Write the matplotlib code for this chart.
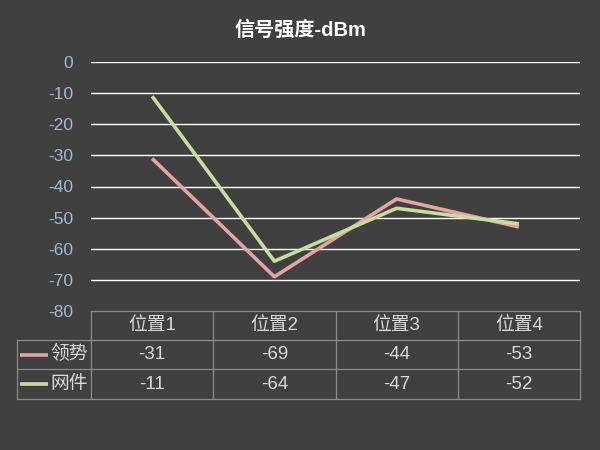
import numpy as np
import matplotlib.pyplot as plt

plt.rcParams['font.family'] = ['Liberation Sans', 'Noto Sans CJK SC', 'DejaVu Sans']

# data
categories = ['位置1', '位置2', '位置3', '位置4']
series_names = ['领势', '网件']
lingshi = [-31, -69, -44, -53]
wangjian = [-11, -64, -47, -52]
yticks = [0, -10, -20, -30, -40, -50, -60, -70, -80]

bg = '#404040'
colors = ['#E6A3A3', '#C9DC9E']
W, H = 600, 450

fig = plt.figure(figsize=(6, 4.5), dpi=100, facecolor=bg)

# plot area (pixel box)
x0, x1, ytop, ybot = 91, 580, 62, 311
ax = fig.add_axes([x0 / W, 1 - ybot / H, (x1 - x0) / W, (ybot - ytop) / H])
ax.set_facecolor(bg)
ax.set_xlim(-0.5, len(categories) - 0.5)
ax.set_ylim(-80, 0)
for t in yticks:
    if t > -80:
        ax.axhline(t, color='white', lw=1, zorder=1)
for vals, c in zip([lingshi, wangjian], colors):
    ax.plot(range(len(categories)), vals, color=c, lw=2.6, solid_capstyle='butt', zorder=3)
ax.set_yticks(yticks)
ax.set_yticklabels([str(t) for t in yticks])
ax.tick_params(axis='y', length=0, pad=13, labelsize=12.5, labelcolor='#A9B9CE')
ax.set_xticks([])
for s in ax.spines.values():
    s.set_visible(False)

fig.text(0.5, 1 - 30 / H, '信号强度-dBm', ha='center', va='center',
         color='white', fontsize=14.5, fontweight='bold')

# data table below
tl, tr, r0, r1, r2, r3 = 17, 580, 311, 340, 369, 399
tax = fig.add_axes([tl / W, 1 - r3 / H, (tr - tl) / W, (r3 - r0) / H])
tax.set_xlim(tl, tr)
tax.set_ylim(r3, r0)
tax.axis('off')
lc = '#8C8C8C'
tax.plot([x0, tr], [r0, r0], color=lc, lw=0.9, clip_on=False)
for yy in [r1, r2, r3]:
    tax.plot([tl, tr], [yy, yy], color=lc, lw=0.9, clip_on=False)
tax.plot([tl, tl], [r1, r3], color=lc, lw=0.9, clip_on=False)
cw = (x1 - x0) / len(categories)
for i in range(len(categories) + 1):
    xx = x0 + i * cw
    tax.plot([xx, xx], [r0, r3], color=lc, lw=0.9, clip_on=False)

tcol = '#D9D9D9'
fs = 13.5
for i, cat in enumerate(categories):
    cx = x0 + (i + 0.5) * cw
    tax.text(cx, (r0 + r1) / 2, cat, ha='center', va='center', color=tcol, fontsize=fs)
    tax.text(cx, (r1 + r2) / 2, str(lingshi[i]), ha='center', va='center', color=tcol, fontsize=fs)
    tax.text(cx, (r2 + r3) / 2, str(wangjian[i]), ha='center', va='center', color=tcol, fontsize=fs)
for yy0, yy1, name, c in [(r1, r2, series_names[0], colors[0]), (r2, r3, series_names[1], colors[1])]:
    cy = (yy0 + yy1) / 2
    tax.plot([20, 48], [cy, cy], color=c, lw=2.6, solid_capstyle='butt')
    tax.text(50, cy, name, ha='left', va='center', color=tcol, fontsize=fs)

fig.savefig('out.png', dpi=100, facecolor=bg)
